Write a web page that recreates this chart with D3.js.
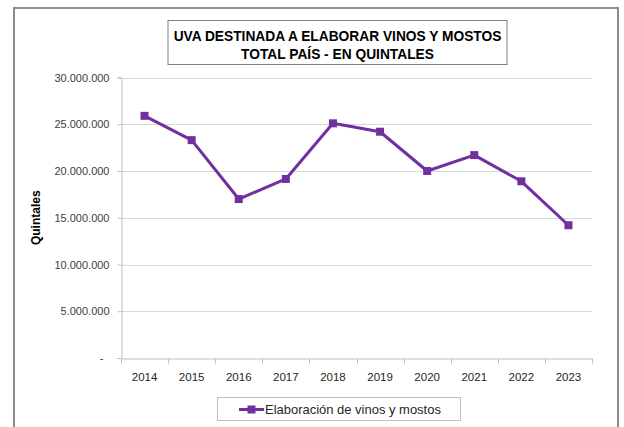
<!DOCTYPE html>
<html>
<head>
<meta charset="utf-8">
<script src="https://cdn.jsdelivr.net/npm/d3@7"></script>
<style>
html,body{margin:0;padding:0;background:#fff;}
svg{display:block;}
text{font-family:"Liberation Sans",Arial,sans-serif;}
</style>
</head>
<body>
<svg id="chart" width="624" height="427"></svg>
<script>
const years = ["2014","2015","2016","2017","2018","2019","2020","2021","2022","2023"];
const values = [25900000,23300000,17000000,19150000,25100000,24200000,20000000,21700000,18900000,14200000];
const yTicks = [0,5000000,10000000,15000000,20000000,25000000,30000000];
const titleLines = ["UVA DESTINADA A ELABORAR VINOS Y MOSTOS","TOTAL PAÍS - EN QUINTALES"];
const yAxisTitle = "Quintales";
const seriesName = "Elaboración de vinos y mostos";

const svg = d3.select("#chart");
const purple = "#7030A0";
const plot = {left:121, right:592, top:77.5, bottom:358};

// outer frame
svg.append("rect").attr("x",14).attr("y",8).attr("width",604).attr("height",430)
  .attr("fill","#fff").attr("stroke","#8c8c8c").attr("stroke-width",2);

// title box
svg.append("rect").attr("x",168).attr("y",20.5).attr("width",339).attr("height",44)
  .attr("fill","#fff").attr("stroke","#7f7f7f").attr("stroke-width",1);
function fit(sel, w){
  const n = sel.node(); const cur = n.getComputedTextLength();
  const fs = parseFloat(sel.attr("font-size"));
  sel.attr("font-size", fs*w/cur);
}
const t1 = svg.append("text").attr("x",337.5).attr("y",41).attr("text-anchor","middle")
  .attr("font-weight","bold").attr("font-size",14).attr("fill","#000").text(titleLines[0]);
fit(t1, 328);
const t2 = svg.append("text").attr("x",337.5).attr("y",58.5).attr("text-anchor","middle")
  .attr("font-weight","bold").attr("font-size",t1.attr("font-size")).attr("fill","#000").text(titleLines[1]);

const x = d3.scaleBand().domain(years).range([plot.left, plot.right]);
const y = d3.scaleLinear().domain([0,30000000]).range([plot.bottom, plot.top]);

// gridlines
svg.append("g").selectAll("line").data(yTicks.filter(d=>d>0)).join("line")
  .attr("x1",plot.left).attr("x2",plot.right)
  .attr("y1",d=>Math.round(y(d))+0.5).attr("y2",d=>Math.round(y(d))+0.5)
  .attr("stroke","#d9d9d9").attr("stroke-width",1);

// y axis
const fmt = d => d===0 ? "-" : d3.format(",")(d).replace(/,/g,".");
const yAxis = svg.append("g").attr("transform",`translate(${plot.left+0.5},0)`)
  .call(d3.axisLeft(y).tickValues(yTicks).tickFormat(fmt).tickSize(4).tickPadding(8));
yAxis.select(".domain").attr("stroke","#bfbfbf");
yAxis.selectAll(".tick line").attr("stroke","#bfbfbf");
yAxis.selectAll(".tick text").attr("font-size",11).attr("fill","#404040")
  .attr("font-family","Liberation Sans, Arial, sans-serif");
yAxis.selectAll(".tick text").filter(d=>d===0).attr("dx",-6);

// x axis
const xAxis = svg.append("g").attr("transform",`translate(0,${Math.round(plot.bottom)+0.5})`)
  .call(d3.axisBottom(x).tickSize(0).tickPadding(14));
xAxis.select(".domain").attr("stroke","#bfbfbf");
xAxis.selectAll(".tick text").attr("font-size",11.5).attr("fill","#262626")
  .attr("font-family","Liberation Sans, Arial, sans-serif");
// boundary ticks between categories
const bounds = years.map(d=>x(d)).concat([x(years[years.length-1])+x.bandwidth()]);
xAxis.append("g").selectAll("line").data(bounds).join("line")
  .attr("x1",d=>Math.round(d)+0.5).attr("x2",d=>Math.round(d)+0.5)
  .attr("y1",0).attr("y2",5).attr("stroke","#bfbfbf");

// y axis title
svg.append("text").attr("transform",`translate(40,${(plot.top+plot.bottom)/2}) rotate(-90)`)
  .attr("text-anchor","middle").attr("font-weight","bold").attr("font-size",12)
  .attr("fill","#000").text(yAxisTitle);

// line
const cx = d => x(d)+x.bandwidth()/2;
svg.append("path").datum(values.map((v,i)=>[years[i],v]))
  .attr("fill","none").attr("stroke",purple).attr("stroke-width",3).attr("stroke-linejoin","round")
  .attr("d", d3.line().x(d=>cx(d[0])).y(d=>y(d[1])));
svg.append("g").selectAll("rect").data(values.map((v,i)=>[years[i],v])).join("rect")
  .attr("x",d=>cx(d[0])-4).attr("y",d=>y(d[1])-4).attr("width",8).attr("height",8)
  .attr("fill",purple);

// legend
svg.append("rect").attr("x",217.5).attr("y",397.5).attr("width",243).attr("height",23)
  .attr("fill","#fff").attr("stroke","#bfbfbf");
svg.append("line").attr("x1",239).attr("x2",264).attr("y1",409.5).attr("y2",409.5)
  .attr("stroke",purple).attr("stroke-width",3);
svg.append("rect").attr("x",247.5).attr("y",405.5).attr("width",8).attr("height",8).attr("fill",purple);
const lt = svg.append("text").attr("x",265).attr("y",414).attr("font-size",12).attr("fill","#262626").text(seriesName);
fit(lt, 176);
</script>
</body>
</html>
